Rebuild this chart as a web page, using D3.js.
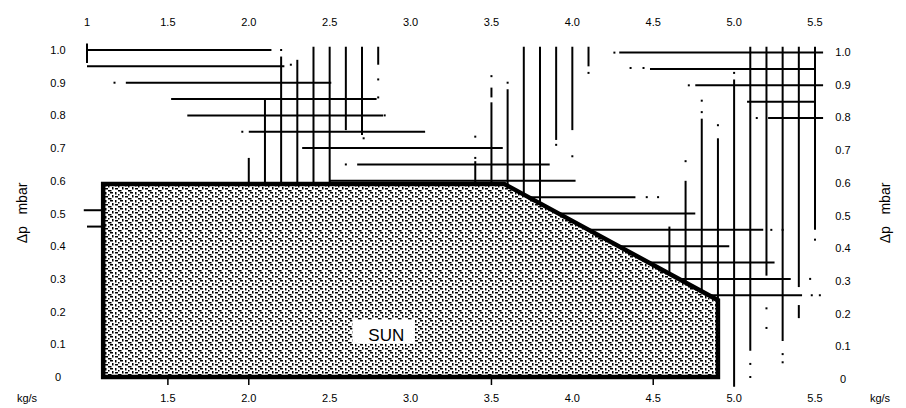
<!DOCTYPE html>
<html>
<head>
<meta charset="utf-8">
<script src="https://cdn.jsdelivr.net/npm/d3@7"></script>
<style>
  body { margin: 0; background: #fff; }
  svg text { font-family: "Liberation Sans", Arial, sans-serif; fill: #000; }
</style>
</head>
<body>
<svg id="chart" width="906" height="408"></svg>
<script>
// tick values and labels
var topTicks = [1, 1.5, 2, 2.5, 3, 3.5, 4, 4.5, 5, 5.5];
var topLabels = ['1', '1.5', '2.0', '2.5', '3.0', '3.5', '4.0', '4.5', '5.0', '5.5'];
var bottomTicks = [1.5, 2, 2.5, 3, 3.5, 4, 4.5, 5, 5.5];
var bottomLabels = ['1.5', '2.0', '2.5', '3.0', '3.5', '4.0', '4.5', '5.0', '5.5'];
var tickMarks = [1.5, 2, 3.5, 4.5];
var yTicks = [0, 0.1, 0.2, 0.3, 0.4, 0.5, 0.6, 0.7, 0.8, 0.9, 1.0];
var yLabels = ['0', '0.1', '0.2', '0.3', '0.4', '0.5', '0.6', '0.7', '0.8', '0.9', '1.0'];

// operating area (kg/s, mbar)
var sunX = [1.1, 3.58, 4.9, 4.9, 1.1];
var sunY = [0.59, 0.59, 0.235, 0, 0];

// horizontal lines: [dp, from, to]
var hLines = [
  [1.0, 1.0, 2.14], [0.95, 1.0, 2.22], [0.9, 1.24, 2.51], [0.85, 1.52, 2.79],
  [0.8, 1.62, 2.83], [0.75, 2.0, 3.09], [0.7, 2.33, 3.57], [0.65, 2.67, 3.86],
  [0.6, 2.5, 4.02],
  [0.55, 3.6, 4.39], [0.5, 3.6, 4.76], [0.45, 3.6, 5.18], [0.4, 3.6, 4.97],
  [0.35, 3.6, 5.25], [0.3, 3.6, 5.35], [0.25, 3.6, 5.42],
  [0.992, 4.29, 5.55], [0.942, 4.48, 5.5], [0.892, 4.76, 5.55],
  [0.842, 5.08, 5.5], [0.792, 5.21, 5.55],
  [0.51, 0.98, 1.1], [0.46, 1.0, 1.1]
];

// vertical lines: [flow, top, bottom]
var vLines = [
  [1.0, 1.02, 0.96],
  [2.0, 0.67, 0.5], [2.1, 0.85, 0.5], [2.2, 0.98, 0.5], [2.3, 0.97, 0.5],
  [2.4, 1.01, 0.5], [2.5, 1.01, 0.5], [2.6, 1.01, 0.755], [2.7, 1.01, 0.74],
  [2.8, 1.01, 0.955],
  [3.4, 0.66, 0.5], [3.5, 0.84, 0.5], [3.5, 0.885, 0.855], [3.6, 0.88, 0.5],
  [3.7, 1.01, 0.5], [3.8, 1.01, 0.5], [3.9, 1.01, 0.725], [4.0, 1.01, 0.755],
  [4.1, 1.01, 0.95],
  [4.6, 0.46, 0.2], [4.7, 0.6, 0.2], [4.8, 0.79, 0.2], [4.9, 0.73, 0.2],
  [5.0, 0.91, -0.03], [5.1, 1.01, 0.08], [5.2, 1.01, 0.31], [5.3, 1.01, 0.11],
  [5.4, 1.01, 0.275], [5.4, 0.22, 0.18], [5.5, 1.01, 0.45]
];

// loose dots from broken lines: [flow, dp]
var dots = [
  [2.2, 1.0], [2.26, 0.955], [1.17, 0.9], [2.8, 0.91], [2.8, 0.855], [2.84, 0.8],
  [2.71, 0.73], [1.96, 0.75], [2.6, 0.65], [3.4, 0.735], [3.4, 0.67], [3.5, 0.92],
  [3.6, 0.9], [3.9, 0.71], [4.0, 0.675], [4.1, 0.93], [4.46, 0.55], [4.53, 0.55],
  [5.23, 0.45], [5.3, 0.45], [5.47, 0.3], [5.48, 0.25], [5.53, 0.25], [4.7, 0.66],
  [4.8, 0.845], [4.8, 0.81], [5.0, 0.93], [5.2, 0.21], [5.2, 0.15], [5.1, 0.04],
  [5.1, 0.0], [5.3, 0.07], [5.3, 0.045], [5.5, 0.42], [4.36, 0.945], [4.44, 0.945],
  [4.26, 0.992], [4.72, 0.892], [5.14, 0.792], [4.9, 0.77]
];

var svg = d3.select('#chart');
var x = d3.scaleLinear().domain([1, 5.5]).range([87, 815]);
var y = d3.scaleLinear().domain([0, 1]).range([377, 50]);

// stipple fill
var pat = svg.append('defs').append('pattern')
  .attr('id', 'stipple').attr('patternUnits', 'userSpaceOnUse')
  .attr('width', 10).attr('height', 8);
pat.append('rect').attr('width', 10).attr('height', 8).attr('fill', '#fff');
[[0, 0, 3, 1.5], [5, 0, 1.5, 2.5], [8, 2, 1.5, 1.5], [2, 3, 1.5, 2.5],
 [5, 4, 3, 1.5], [0, 6, 1.5, 1.5], [8, 6, 2, 1.5]].forEach(function(r){
  pat.append('rect').attr('x', r[0]).attr('y', r[1])
    .attr('width', r[2]).attr('height', r[3]).attr('fill', '#000');
});

var g = svg.append('g');

g.selectAll('line.h').data(hLines).enter().append('line')
  .attr('class', 'h')
  .attr('x1', function(d){ return x(d[1]); })
  .attr('x2', function(d){ return x(d[2]); })
  .attr('y1', function(d){ return y(d[0]); })
  .attr('y2', function(d){ return y(d[0]); })
  .attr('stroke', '#000').attr('stroke-width', 2);

g.selectAll('line.v').data(vLines).enter().append('line')
  .attr('class', 'v')
  .attr('x1', function(d){ return x(d[0]); })
  .attr('x2', function(d){ return x(d[0]); })
  .attr('y1', function(d){ return y(d[1]); })
  .attr('y2', function(d){ return y(d[2]); })
  .attr('stroke', '#000').attr('stroke-width', 2);

g.selectAll('rect.dot').data(dots).enter().append('rect')
  .attr('class', 'dot')
  .attr('x', function(d){ return x(d[0]) - 1; })
  .attr('y', function(d){ return y(d[1]) - 1; })
  .attr('width', 2).attr('height', 2).attr('fill', '#000');

// area
var pts = sunX.map(function(v, i){ return [x(v), y(sunY[i])]; });
g.append('path')
  .attr('d', d3.line()(pts) + 'Z')
  .attr('fill', 'url(#stipple)')
  .attr('stroke', '#000').attr('stroke-width', 4.5)
  .attr('stroke-linejoin', 'miter');

// bottom ticks
g.selectAll('line.tk').data(tickMarks).enter().append('line')
  .attr('class', 'tk')
  .attr('x1', function(d){ return x(d); }).attr('x2', function(d){ return x(d); })
  .attr('y1', y(0)).attr('y2', y(0) + 8)
  .attr('stroke', '#000').attr('stroke-width', 1.5);

// SUN label
g.append('rect').attr('x', x(2.64)).attr('y', y(0.175))
  .attr('width', 62).attr('height', 24).attr('fill', '#fff');
g.append('text').attr('x', x(2.85)).attr('y', y(0.11))
  .attr('text-anchor', 'middle').attr('font-size', 17).text('SUN');

// tick labels
g.selectAll('text.top').data(topTicks).enter().append('text')
  .attr('class', 'top')
  .attr('x', function(d){ return x(d); }).attr('y', 26)
  .attr('text-anchor', 'middle').attr('font-size', 11)
  .text(function(d, i){ return topLabels[i]; });

g.selectAll('text.bot').data(bottomTicks).enter().append('text')
  .attr('class', 'bot')
  .attr('x', function(d){ return x(d); }).attr('y', 402)
  .attr('text-anchor', 'middle').attr('font-size', 11)
  .text(function(d, i){ return bottomLabels[i]; });

g.selectAll('text.yl').data(yTicks).enter().append('text')
  .attr('class', 'yl')
  .attr('x', 58).attr('y', function(d){ return y(d) + 4; })
  .attr('text-anchor', 'middle').attr('font-size', 11)
  .text(function(d, i){ return yLabels[i]; });

g.selectAll('text.yr').data(yTicks).enter().append('text')
  .attr('class', 'yr')
  .attr('x', 843).attr('y', function(d){ return y(d) + 6; })
  .attr('text-anchor', 'middle').attr('font-size', 11)
  .text(function(d, i){ return yLabels[i]; });

// units
g.append('text').attr('x', 27).attr('y', 402).attr('text-anchor', 'middle')
  .attr('font-size', 11).text('kg/s');
g.append('text').attr('x', 880).attr('y', 402).attr('text-anchor', 'middle')
  .attr('font-size', 11).text('kg/s');
g.append('text').attr('transform', 'translate(27,213) rotate(-90)')
  .attr('text-anchor', 'middle').attr('font-size', 14)
  .style('white-space', 'pre').text('Δp   mbar');
g.append('text').attr('transform', 'translate(890,213) rotate(-90)')
  .attr('text-anchor', 'middle').attr('font-size', 14)
  .style('white-space', 'pre').text('Δp   mbar');
</script>
</body>
</html>
